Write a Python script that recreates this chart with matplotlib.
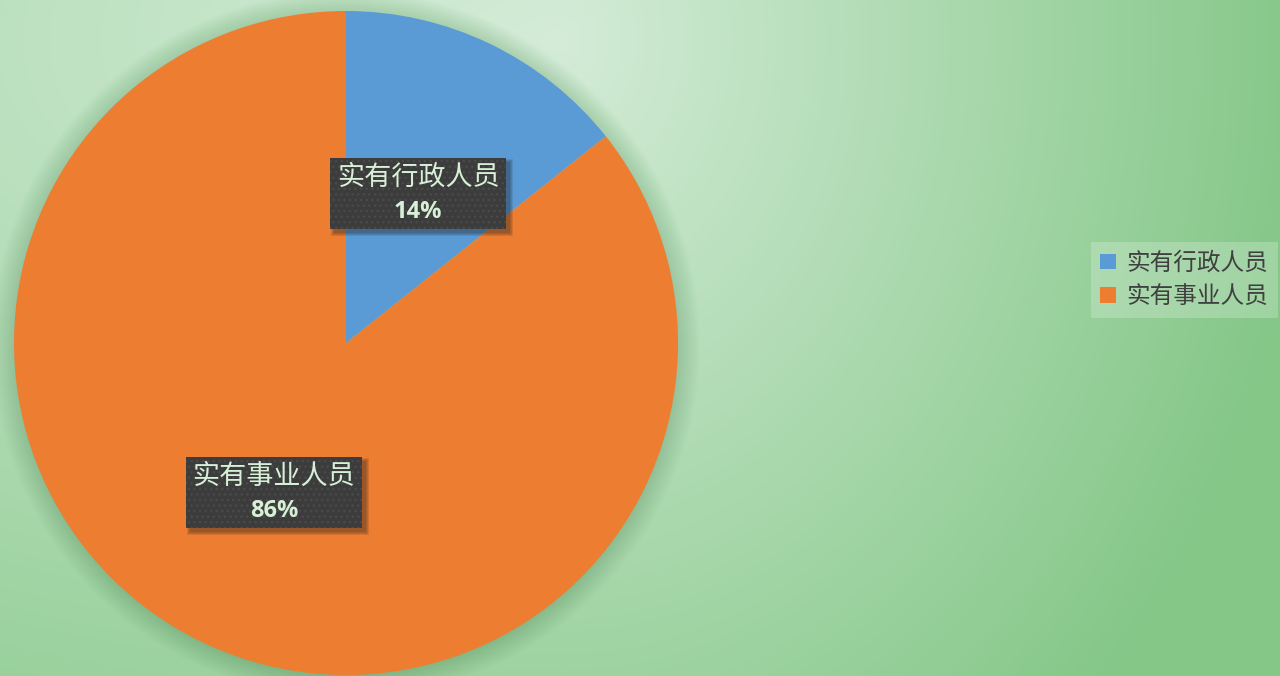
import numpy as np
import matplotlib
matplotlib.use("Agg")
import matplotlib.pyplot as plt
from matplotlib.patches import Circle, Rectangle
from matplotlib.colors import to_rgb

plt.rcParams['font.family'] = ['Noto Sans CJK SC', 'DejaVu Sans']

categories = ["实有行政人员", "实有事业人员"]
values = [14.3, 85.7]
colors = ["#5b9bd5", "#ed7d31"]

W, H = 1280, 676
fig = plt.figure(figsize=(W / 100, H / 100), dpi=100)

# background: soft anisotropic radial gradient
bg = fig.add_axes([0, 0, 1, 1])
yy, xx = np.mgrid[0:H, 0:W].astype(float)
gx0, gy0 = 560.0, 40.0
sx = np.where(xx < gx0, 1800.0, 720.0)
d = np.sqrt(((xx - gx0) / sx) ** 2 + ((yy - gy0) / 900.0) ** 2)
t = np.clip(d / 1.05, 0, 1)[..., None]
c0 = np.array(to_rgb("#d4ecd8"))
c1 = np.array(to_rgb("#84c787"))
img = c0 * (1 - t) + c1 * t
bg.imshow(img, extent=[0, W, H, 0], aspect='auto')
bg.set_xlim(0, W)
bg.set_ylim(H, 0)
bg.axis('off')

# pie axes
cx, cy, r = 346, 343, 332
ax = fig.add_axes([(cx - r) / W, (H - cy - r) / H, 2 * r / W, 2 * r / H])

wedges, _ = ax.pie(values, colors=colors, startangle=90, counterclock=False,
                   radius=1.0, wedgeprops=dict(linewidth=0))
for w in wedges:
    w.set_zorder(2)

# soft shadow halo
for i in range(14):
    ax.add_patch(Circle((0.0, -0.004), 1.0 + i * 0.005, color='#2f6a35', alpha=0.016,
                        lw=0, zorder=0, clip_on=False))

total = sum(values)
bw, bh = 176 / r, 71 / r
px = 1.0 / r
for w, name, v in zip(wedges, categories, values):
    ang = np.deg2rad((w.theta1 + w.theta2) / 2)
    x, y = 0.5 * np.cos(ang), 0.5 * np.sin(ang)
    ax.text(x, y + 0.048, name, ha='center', va='center', fontsize=19.5,
            color='#d8f0d8', zorder=6)
    ax.text(x, y - 0.056, f"{v / total * 100:.0f}%", ha='center', va='center', fontsize=17,
            fontweight='bold', color='#d8f0d8', zorder=6, family=['Open Sans', 'DejaVu Sans'])
    # soft shadow
    for k in range(4):
        g = (3 - k) * px
        ax.add_patch(Rectangle((x - bw / 2 + 4 * px - g, y - bh / 2 - 4 * px - g), bw + 2 * g, bh + 2 * g,
                               facecolor='#202020', edgecolor='none', alpha=0.12, zorder=4))
    ax.add_patch(Rectangle((x - bw / 2, y - bh / 2), bw, bh, facecolor='#3c3c3c', edgecolor='#4a4a4a',
                           linewidth=0, hatch='...', zorder=5))

ax.set_xlim(-1, 1)
ax.set_ylim(-1, 1)
ax.set_aspect('equal')
ax.axis('off')

leg = fig.legend(wedges, categories, loc='center left', bbox_to_anchor=(1091 / W, 1 - 280 / H),
                 frameon=True, fontsize=17, handlelength=0.65, handleheight=0.65,
                 handletextpad=0.45, labelspacing=0.45, borderpad=0.4, borderaxespad=0,
                 fancybox=False, framealpha=0.22)
leg.get_frame().set_facecolor('white')
leg.get_frame().set_edgecolor('none')
for t_ in leg.get_texts():
    t_.set_color('#404040')

fig.savefig("out.png", dpi=100)
